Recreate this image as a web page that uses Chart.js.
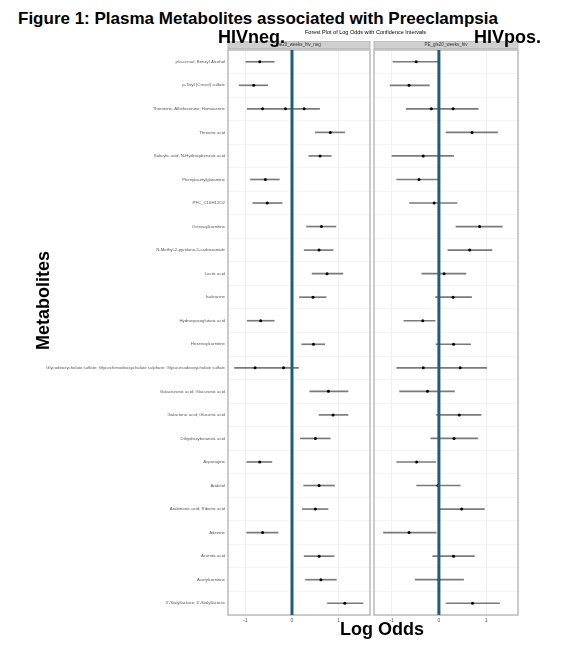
<!DOCTYPE html>
<html><head><meta charset="utf-8">
<script src="https://cdn.jsdelivr.net/npm/chart.js@4"></script>
<style>
body{margin:0;background:#fff;width:572px;height:671px;position:relative;font-family:"Liberation Sans",Arial,sans-serif;overflow:hidden}
.t{position:absolute;font-weight:bold;color:#000;white-space:nowrap;z-index:5}
#c1{position:absolute;left:0;top:41px}
#c2{position:absolute;left:370px;top:41px}
</style></head><body>
<div class="t" style="left:18px;top:9px;font-size:17px">Figure 1: Plasma Metabolites associated with Preeclampsia</div>
<div class="t" style="left:305px;top:29px;font-size:5.5px;font-weight:normal">Forest Plot of Log Odds with Confidence Intervals</div>
<div class="t" style="left:218px;top:27px;font-size:18px">HIVneg.</div>
<div class="t" style="left:474px;top:27px;font-size:18px">HIVpos.</div>
<div class="t" style="left:-6px;top:290px;font-size:18px;transform:rotate(-90deg)">Metabolites</div>
<div class="t" style="left:340px;top:619px;font-size:18px">Log Odds</div>
<canvas id="c1" width="374" height="584"></canvas>
<canvas id="c2" width="152" height="584"></canvas>
<script>
const metabolites=["p/o-cresol; Benzyl Alcohol","p-Tolyl (Cresol) sulfate","Threonine; Allothreonine; Homoserine","Threonic acid","Salicylic acid; N-Hydroxybenzoic acid","Phenylacetylglutamine","PFC_C16H12O2","Octenoylcarnitine","N-Methyl-2-pyridone-5-carboxamide","Lactic acid","Isoleucine","Hydroxyoxoglutaric acid","Hexenoylcarnitine","Glycodeoxycholate sulfate; Glycochenodeoxycholate sulphate; Glycoursodeoxycholate sulfate","Galacturonic acid; Glucuronic acid","Galactonic acid; Gluconic acid","Dihydroxybutanoic acid","Asparagine","Arabitol","Arabinonic acid; Ribonic acid","Adenine","Aconitic acid","Acetylcarnitine","3'-Sialyllactose; 6'-Sialyllactose"];
const negEst=[-0.69,-0.82,-0.63,0.82,0.60,-0.57,-0.53,0.63,0.58,0.75,0.45,-0.67,0.46,-0.79,0.78,0.88,0.50,-0.69,0.58,0.50,-0.63,0.58,0.62,1.13];
const negExtra=[null,null,-0.14,null,null,null,null,null,null,null,null,null,null,-0.18,null,null,null,null,null,null,null,null,null,null];
const negExtra2=[null,null,0.26,null,null,null,null,null,null,null,null,null,null,null,null,null,null,null,null,null,null,null,null,null];
const negLo=[-0.99,-1.13,-0.96,0.50,0.36,-0.89,-0.84,0.31,0.26,0.43,0.16,-0.96,0.21,-1.23,0.38,0.58,0.18,-0.97,0.25,0.22,-0.97,0.26,0.29,0.76];
const negHi=[-0.38,-0.52,0.59,1.13,0.84,-0.27,-0.21,0.94,0.88,1.09,0.73,-0.38,0.70,0.14,1.20,1.20,0.82,-0.43,0.91,0.77,-0.30,0.90,0.95,1.52];
const posEst=[-0.48,-0.63,-0.16,0.70,-0.33,-0.42,-0.10,0.86,0.65,0.11,0.30,-0.34,0.31,-0.33,-0.24,0.43,0.32,-0.47,-0.02,0.48,-0.63,0.31,0.00,0.71];
const posExtra=[null,null,0.30,null,null,null,null,null,null,null,null,null,null,0.45,null,null,null,null,null,null,null,null,null,null];
const posLo=[-0.97,-1.03,-0.69,0.15,-0.99,-0.89,-0.62,0.36,0.19,-0.36,-0.07,-0.74,-0.06,-0.89,-0.83,-0.05,-0.17,-0.89,-0.47,0.02,-1.17,-0.13,-0.50,0.15];
const posHi=[0.00,-0.20,0.83,1.24,0.31,-0.01,0.38,1.34,1.12,0.57,0.69,-0.08,0.67,1.01,0.33,0.89,0.82,-0.07,0.45,0.96,-0.06,0.75,0.52,1.28];
const xTicks=[-1,0,1];

const deco={id:'deco',beforeDatasetsDraw(c,a,o){const ctx=c.ctx,ca=c.chartArea;ctx.save();
 ctx.fillStyle='#cfcfcf';ctx.fillRect(ca.left,ca.top-9,ca.right-ca.left,8);ctx.strokeStyle='#999';ctx.lineWidth=0.6;ctx.strokeRect(ca.left,ca.top-9,ca.right-ca.left,8);
 ctx.fillStyle='#333';ctx.font='4.5px Liberation Sans';ctx.textAlign='center';ctx.textBaseline='middle';ctx.fillText(o.strip,(ca.left+ca.right)/2,ca.top-5);
 ctx.strokeStyle='#bbb';ctx.lineWidth=1.5;ctx.strokeRect(ca.left,ca.top,ca.right-ca.left,ca.bottom-ca.top);ctx.restore();},
 afterDatasetsDraw(c){const ctx=c.ctx,ca=c.chartArea,x=c.scales.x.getPixelForValue(0);ctx.save();ctx.strokeStyle='#1d5f78';ctx.lineWidth=3;ctx.beginPath();ctx.moveTo(x,ca.top);ctx.lineTo(x,ca.bottom);ctx.stroke();ctx.restore();}};

function make(id,est,extras,lo,hi,strip,showY,yw){
 const ds=[{type:'bar',data:lo.map((l,i)=>[l,hi[i]]),backgroundColor:'#7a7a7a',barThickness:1,order:3}];
 ds.push({type:'line',data:est,showLine:false,pointRadius:1.5,pointBackgroundColor:'#000',pointBorderWidth:0,order:1});
 extras.forEach(e=>ds.push({type:'line',data:e,showLine:false,pointRadius:1.5,pointBackgroundColor:'#000',pointBorderWidth:0,order:1}));
 new Chart(document.getElementById(id),{type:'bar',data:{labels:metabolites,datasets:ds},plugins:[deco],
 options:{indexAxis:'y',responsive:false,animation:false,layout:{padding:{top:9,left:0,right:2,bottom:0}},
  plugins:{legend:{display:false},tooltip:{enabled:false},deco:{strip}},
  scales:{x:{min:-1.37,max:1.67,afterBuildTicks(s){s.ticks=xTicks.map(v=>({value:v}));},grid:{color:'#e6e6e6',lineWidth:0.6,tickLength:2},border:{display:false},ticks:{font:{size:5},color:'#555',padding:1}},
   y:{grid:{color:'#ececec',lineWidth:0.6,tickLength:2},border:{display:false},ticks:{display:showY,autoSkip:false,font:{size:4.3},color:'#555',padding:1},afterFit(s){s.width=yw;}}}}});
}
make('c1',negEst,[negExtra,negExtra2],negLo,negHi,'pe20_weeks_hiv_neg',true,228);
make('c2',posEst,[posExtra],posLo,posHi,'PE_gls20_weeks_hiv',false,4);
</script></body></html>
